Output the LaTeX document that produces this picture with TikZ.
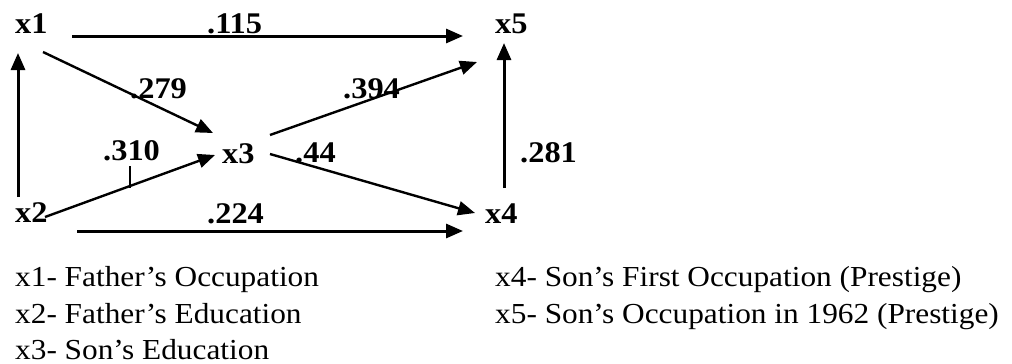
\documentclass[tikz,border=0pt]{standalone}
\usepackage{fontspec}
\setmainfont[FakeStretch=1.08]{Liberation Serif}
\usetikzlibrary{arrows.meta,calc}
\tikzset{
  var/.style={anchor=base west,inner sep=0pt,font=\fontsize{30}{32}\selectfont\bfseries},
  coef/.style={anchor=base west,inner sep=0pt,font=\fontsize{30}{32}\selectfont\bfseries},
  legend/.style={anchor=base west,inner sep=0pt,font=\fontsize{29}{32}\selectfont},
  arr/.style={-{Triangle[length=17pt,width=14pt]},line width=3pt},
  darr/.style={-{Triangle[length=17pt,width=14pt]},line width=2.4pt},
  tick/.style={line width=1.4pt}
}
\begin{document}
\begin{tikzpicture}[x=1pt,y=-1pt]
\useasboundingbox (0,0) rectangle (1012,364);
% variables
\node[var] (x1) at (15,33) {x1};
\node[var] (x2) at (15,222) {x2};
\node[var] (x3) at (222,163) {x3};
\node[var] (x4) at (485,223) {x4};
\node[var] (x5) at (495,33) {x5};
% arrows
\draw[arr] ($(x1.base west)+(57,3)$) -- ($(x5.base west)+(-32,3)$);
\draw[arr] ($(x2.base west)+(3,-25)$) -- ($(x1.base west)+(3,20)$);
\draw[darr] ($(x1.base west)+(28,19)$) -- ($(x3.base west)+(-9,-30)$);
\draw[darr] ($(x2.base west)+(30,-5)$) -- ($(x3.base west)+(-7,-8)$);
\draw[darr] ($(x3.base west)+(48,-28)$) -- ($(x5.base west)+(-18,29)$);
\draw[darr] ($(x3.base west)+(48,-9)$) -- ($(x4.base west)+(-10,-10)$);
\draw[arr] ($(x4.base west)+(19,-35)$) -- ($(x5.base west)+(9,10)$);
\draw[arr] ($(x2.base west)+(62,9)$) -- ($(x4.base west)+(-22,8)$);
% coefficients
\node[coef] (c115) at (207,33) {.115};
\node[coef] (c279) at (130,98) {.279};
\node[coef] (c310) at (103,160) {.310};
\node[coef] (c44) at (295,162) {.44};
\node[coef] (c394) at (343,98) {.394};
\node[coef] (c281) at (520,162) {.281};
\node[coef] (c224) at (207,223) {.224};
\draw[tick] ($(c310.base west)+(27,6)$) -- ($(c310.base west)+(27,28)$);
% legend
\node[legend] (l1) at (15,286) {x1- Father’s Occupation};
\node[legend] (l2) at (15,323) {x2- Father’s Education};
\node[legend] (l3) at (15,359) {x3- Son’s Education};
\node[legend] (l4) at (495,286) {x4- Son’s First Occupation (Prestige)};
\node[legend] (l5) at (495,323) {x5- Son’s Occupation in 1962 (Prestige)};
\end{tikzpicture}
\end{document}
